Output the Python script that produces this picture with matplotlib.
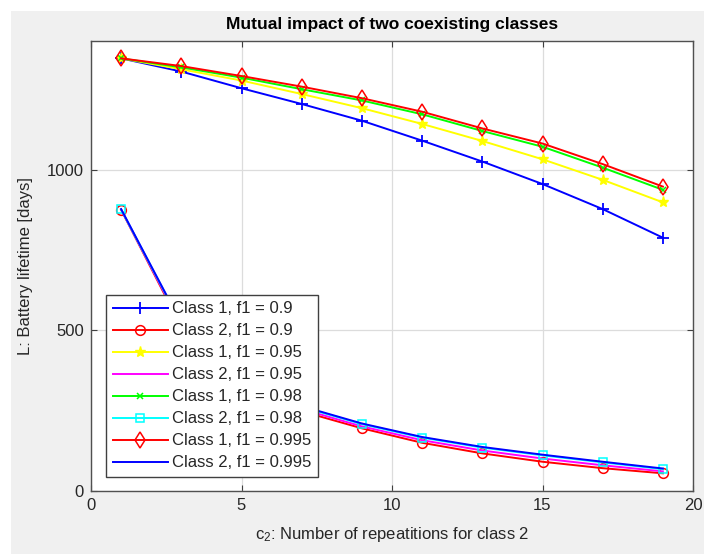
import matplotlib
matplotlib.use("Agg")
import matplotlib.pyplot as plt
from matplotlib.patches import Rectangle

plt.rcParams['font.family'] = ['Liberation Sans', 'DejaVu Sans']
plt.rcParams['mathtext.fontset'] = 'custom'
plt.rcParams['mathtext.rm'] = 'Liberation Sans'
plt.rcParams['mathtext.it'] = 'Liberation Sans:italic'

# repetitions of class 2
c2 = [1, 3, 5, 7, 9, 11, 13, 15, 17, 19]

# battery lifetime [days]
class1_f090 = [1346, 1305, 1253, 1204, 1152, 1090, 1025, 955, 877, 788]
class2_f090 = [875, 510, 338, 248, 195, 150, 117, 91, 71, 55]
class1_f095 = [1346, 1312, 1277, 1235, 1191, 1142, 1089, 1032, 968, 898]
class2_f095 = [876, 515, 344, 255, 201, 158, 126, 101, 80, 61]
class1_f098 = [1346, 1318, 1286, 1250, 1215, 1172, 1120, 1071, 1006, 937]
class2_f098 = [876, 520, 350, 262, 208, 166, 135, 111, 89, 68]
class1_f0995 = [1346, 1322, 1291, 1258, 1222, 1180, 1128, 1081, 1017, 947]
class2_f0995 = [877, 522, 352, 264, 210, 168, 137, 113, 91, 70]

labels = ["Class 1, f1 = 0.9", "Class 2, f1 = 0.9",
          "Class 1, f1 = 0.95", "Class 2, f1 = 0.95",
          "Class 1, f1 = 0.98", "Class 2, f1 = 0.98",
          "Class 1, f1 = 0.995", "Class 2, f1 = 0.995"]

series = [class1_f090, class2_f090, class1_f095, class2_f095,
          class1_f098, class2_f098, class1_f0995, class2_f0995]
styles = [
    dict(color=(0, 0, 1), marker='+', ms=9, mew=1.3),
    dict(color=(1, 0, 0), marker='o', ms=7, mfc='none', mew=1.1),
    dict(color=(1, 1, 0), marker='*', ms=8, mew=1.0),
    dict(color=(1, 0, 1), marker=None),
    dict(color=(0, 1, 0), marker='x', ms=5, mew=1.1),
    dict(color=(0, 1, 1), marker='s', ms=6, mfc='none', mew=1.1),
    dict(color=(1, 0, 0), marker='d', ms=8, mfc='none', mew=1.1),
    dict(color=(0, 0, 1), marker=None),
]

fig = plt.figure(figsize=(7.04, 5.54), dpi=100, facecolor='white')
fig.patches.append(Rectangle((11 / 704, 0), 1, 1 - 11 / 554,
                             transform=fig.transFigure, facecolor='#f0f0f0',
                             edgecolor='none', zorder=-10))

ax = fig.add_axes([91 / 704, 63 / 554, 602 / 704, 450 / 554])
ax.set_facecolor('white')

for y, lab, st in zip(series, labels, styles):
    ax.plot(c2, y, label=lab, lw=1.4, **st)

ax.set_xlim(0, 20)
ax.set_ylim(0, 1400)
ax.set_xticks([0, 5, 10, 15, 20])
ax.set_yticks([0, 500, 1000])
ax.grid(True, color='#dcdcdc', lw=0.9)
ax.set_axisbelow(True)
ax.tick_params(direction='in', length=4, width=0.8, colors='#404040',
               labelcolor='#262626', labelsize=12, top=True, right=True, pad=5)
for sp in ax.spines.values():
    sp.set_color('#505050')
    sp.set_linewidth(1.0)

ax.set_title("Mutual impact of two coexisting classes", fontsize=12.5,
             fontweight='bold', pad=9)
ax.set_xlabel(r"c$_2$: Number of repeatitions for class 2", fontsize=12,
              color='#262626', labelpad=9)
ax.set_ylabel("L: Battery lifetime [days]", fontsize=12, color='#262626',
              labelpad=10)

leg = ax.legend(loc='lower left', bbox_to_anchor=(15 / 602, 14 / 450),
                borderaxespad=0, fontsize=12, fancybox=False, framealpha=1,
                edgecolor='#404040', handlelength=3.3, handletextpad=0.25,
                labelspacing=0.42, borderpad=0.4)
leg.get_frame().set_linewidth(1.0)
for t in leg.get_texts():
    t.set_color('#262626')

fig.savefig("out.png", dpi=100, facecolor=fig.get_facecolor())
